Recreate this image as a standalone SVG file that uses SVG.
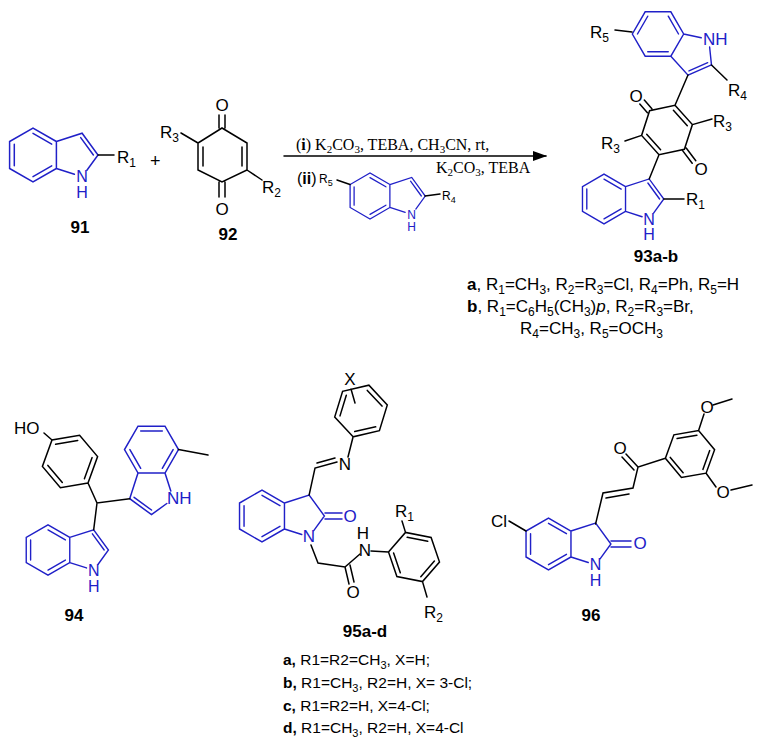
<svg xmlns="http://www.w3.org/2000/svg" xmlns:xlink="http://www.w3.org/1999/xlink" width="764" height="739" viewBox="0 0 764 739">
<style>
svg{font-size:16px}
.k{fill:none;stroke:#000;stroke-width:1.5;stroke-linecap:round}
.b{fill:none;stroke:#2020c8;stroke-width:1.5;stroke-linecap:round}
text{font-family:"Liberation Sans",Arial,sans-serif;fill:#000}
.bt{fill:#2020c8}
.lbl{font-weight:bold;font-size:17px;text-anchor:middle}
.c{text-anchor:middle}
.sm{font-size:12px}
.ser{font-family:"Liberation Serif","Times New Roman",serif;font-size:16px}
</style>
<defs>
<g id="ind">
<path d="M23.4,-13.5 L0,-27 L-23.4,-13.5 L-23.4,13.5 L0,27 L23.4,13.5 Z M23.4,-13.5 L49.1,-21.8 L65,0 L53.9,15.3 M23.4,13.5 L41.4,19.3 M-18.7,-10.8 L-18.7,10.8 M0,-21.6 L18.7,-10.8 M0,21.6 L18.7,10.8"/>
</g>
<path id="db23" d="M47.7,-17.4 L60.4,0"/>
<marker id="ah" markerWidth="14" markerHeight="10" refX="13" refY="5" orient="auto" markerUnits="userSpaceOnUse"><path d="M0,0 L14,5 L0,10 Z" fill="#000"/></marker>
</defs>

<g id="c91">
<g class="b" transform="translate(33,155)"><use xlink:href="#ind"/><use xlink:href="#db23"/></g>
<path class="k" d="M98,155 L114,155"/>
<text x="117" y="163" font-size="17">R<tspan dy="4" font-size="12">1</tspan></text>
<text class="c bt" x="82" y="182">N</text>
<text class="c bt" x="82" y="198">H</text>
<text class="lbl" x="80" y="233">91</text>
</g>

<text id="plus" x="150" y="167" font-size="18">+</text>

<g id="c92">
<path class="k" d="M222,128 L198,143 L198,170 L222,182 L247,170 L247,143 Z M203,147 L203,166 M242,147 L242,166 M219,128 L219,115 M225,128 L225,115 M219,182 L219,197 M225,182 L225,197 M198,143 L181,133 M247,170 L262,180"/>
<text class="c" x="222" y="111" font-size="17">O</text>
<text class="c" x="222" y="215" font-size="17">O</text>
<text x="160" y="138" font-size="17">R<tspan dy="4" font-size="12">3</tspan></text>
<text x="262" y="193" font-size="17">R<tspan dy="4" font-size="12">2</tspan></text>
<text class="lbl" x="228" y="240">92</text>
</g>

<g id="arrow">
<path class="k" d="M284,156 L546,156" marker-end="url(#ah)"/>
<text class="ser" x="296" y="150">(<tspan font-weight="bold">i</tspan>) K<tspan dy="3" font-size="11">2</tspan><tspan dy="-3">CO</tspan><tspan dy="3" font-size="11">3</tspan><tspan dy="-3">, TEBA, CH</tspan><tspan dy="3" font-size="11">3</tspan><tspan dy="-3">CN, rt,</tspan></text>
<text class="ser" x="436" y="173">K<tspan dy="3" font-size="11">2</tspan><tspan dy="-3">CO</tspan><tspan dy="3" font-size="11">3</tspan><tspan dy="-3">, TEBA</tspan></text>
<text x="297" y="184" font-size="16">(<tspan font-weight="bold">ii</tspan>)</text>
<text x="319" y="183" font-size="12">R<tspan dy="3" font-size="9">5</tspan></text>
<g class="b" transform="translate(370,196) scale(0.85)"><use xlink:href="#ind"/><use xlink:href="#db23"/></g>
<path class="k" d="M337,180 L350,184.5 M425,196 L440,194"/>
<text class="c bt sm" x="411.7" y="218.5">N</text>
<text class="c bt sm" x="411.7" y="231">H</text>
<text x="442" y="200" font-size="12">R<tspan dy="3" font-size="9">4</tspan></text>
</g>

<g id="c93">
<g class="b" transform="translate(658,34) rotate(30) scale(0.95,-0.95)"><use xlink:href="#ind"/><use xlink:href="#db23"/></g>
<g class="b" transform="translate(604,199) scale(0.92)"><use xlink:href="#ind"/><use xlink:href="#db23"/></g>
<path class="k" d="M675,105.3 L692.4,124.6 L684.4,149.3 L659,154.7 L641.6,135.4 L649.6,110.7 Z M673.4,110.2 L687.3,125.7 M646.7,134.3 L660.6,149.8 M647.4,112.7 L639.8,104 M651.9,108.7 L644.3,100 M682.6,150.6 L692.2,163.3 M686.2,148 L695.8,160.7 M688,75 L675,105.3 M659,154.7 L649.2,179 M692.4,124.6 L712,119 M641.6,135.4 L625,141 M632,32 L615,30 M711.5,65 L727,80 M663.8,199 L684,199"/>
<text class="c" x="636" y="102" font-size="17">O</text>
<text class="c" x="701" y="175" font-size="17">O</text>
<text x="590" y="38" font-size="17">R<tspan dy="4" font-size="12">5</tspan></text>
<text class="bt" x="703" y="45" font-size="17">NH</text>
<text x="728" y="96" font-size="17">R<tspan dy="4" font-size="12">4</tspan></text>
<text x="713" y="127" font-size="17">R<tspan dy="4" font-size="12">3</tspan></text>
<text x="601" y="149" font-size="17">R<tspan dy="4" font-size="12">3</tspan></text>
<text x="686" y="205" font-size="17">R<tspan dy="4" font-size="12">1</tspan></text>
<text class="c bt" x="649" y="224.5">N</text>
<text class="c bt" x="649" y="240">H</text>
<text class="lbl" x="656" y="262">93a-b</text>
<g font-size="17">
<text x="467" y="290"><tspan font-weight="bold">a</tspan>, R<tspan dy="4" font-size="12">1</tspan><tspan dy="-4">=CH</tspan><tspan dy="4" font-size="12">3</tspan><tspan dy="-4">, R</tspan><tspan dy="4" font-size="12">2</tspan><tspan dy="-4">=R</tspan><tspan dy="4" font-size="12">3</tspan><tspan dy="-4">=Cl,  R</tspan><tspan dy="4" font-size="12">4</tspan><tspan dy="-4">=Ph, R</tspan><tspan dy="4" font-size="12">5</tspan><tspan dy="-4">=H</tspan></text>
<text x="467" y="312"><tspan font-weight="bold">b</tspan>, R<tspan dy="4" font-size="12">1</tspan><tspan dy="-4">=C</tspan><tspan dy="4" font-size="12">6</tspan><tspan dy="-4">H</tspan><tspan dy="4" font-size="12">5</tspan><tspan dy="-4">(CH</tspan><tspan dy="4" font-size="12">3</tspan><tspan dy="-4">)</tspan><tspan font-style="italic">p</tspan>, R<tspan dy="4" font-size="12">2</tspan><tspan dy="-4">=R</tspan><tspan dy="4" font-size="12">3</tspan><tspan dy="-4">=Br,</tspan></text>
<text x="520" y="334">R<tspan dy="4" font-size="12">4</tspan><tspan dy="-4">=CH</tspan><tspan dy="4" font-size="12">3</tspan><tspan dy="-4">, R</tspan><tspan dy="4" font-size="12">5</tspan><tspan dy="-4">=OCH</tspan><tspan dy="4" font-size="12">3</tspan></text>
</g>
</g>

<g id="c94">
<g class="b" transform="translate(48,550) scale(0.93)"><use xlink:href="#ind"/><use xlink:href="#db23"/></g>
<g class="b" transform="translate(151.5,449.6) rotate(90) scale(1,-1)"><use xlink:href="#ind"/><use xlink:href="#db23"/></g>
<path class="k" d="M88,483 L60.4,487.8 L42.4,466.4 L52,440 L79.6,435.2 L97.6,456.6 Z M55.6,444.3 L77.7,440.5 M92.1,457.6 L84.4,478.7 M62.3,482.5 L47.9,465.4 M52,440 L44,433 M88,483 L97,503 L129.7,498.7 M97,503 L93.7,529.7 M178.5,449.6 L208,455"/>
<text x="14" y="434" font-size="17">HO</text>
<text class="bt" x="167" y="504" font-size="17">NH</text>
<text class="c bt" x="93.7" y="575.5">N</text>
<text class="c bt" x="93.7" y="592">H</text>
<text class="lbl" x="74" y="621">94</text>
</g>

<g id="c95">
<g class="b" transform="translate(262,516) scale(0.96)"><use xlink:href="#ind"/></g>
<path class="b" d="M325,513 L342,513 M325,519 L342,519"/>
<text class="c bt" x="350" y="522" font-size="17">O</text>
<text class="c bt" x="309" y="542" font-size="17">N</text>
<path class="k" d="M309.1,495.1 L315,468 L337,462 M317,463 L335,458 M348,457 L353.1,436.8 M353.1,436.8 L334.7,417.1 L342.6,391.3 L368.9,385.2 L387.3,404.9 L379.4,430.7 Z M340,415.9 L346.3,395.2 M367.3,390.4 L382,406.1 M375.7,426.8 L354.7,431.6 M355,403 L351,389 M311,545 L318,563 L345,567 L360,554 M345,567 L349,584 M350,565 L354,582 M371,551 L388.5,552 M388.5,552 L405.5,532.4 L431.1,537.4 L439.5,562 L422.5,581.6 L396.9,576.6 Z M407.2,537.3 L427.7,541.3 M434.4,561 L420.8,576.7 M400.3,572.7 L393.6,553 M405.5,532.4 L402,521 M422.5,581.6 L427,597"/>
<text class="c" x="350" y="385" font-size="17">X</text>
<text class="c" x="345" y="470" font-size="17">N</text>
<text class="c" x="365" y="556" font-size="17">N</text>
<text class="c" x="363" y="539" font-size="17">H</text>
<text class="c" x="353" y="598" font-size="17">O</text>
<text x="395" y="517" font-size="17">R<tspan dy="4" font-size="12">1</tspan></text>
<text x="424" y="618" font-size="17">R<tspan dy="4" font-size="12">2</tspan></text>
<text class="lbl" x="365" y="637">95a-d</text>
<g font-size="15.5">
<text x="283" y="665"><tspan font-weight="bold">a,</tspan> R1=R2=CH<tspan dy="4" font-size="11">3</tspan><tspan dy="-4">, X=H;</tspan></text>
<text x="283" y="688"><tspan font-weight="bold">b,</tspan> R1=CH<tspan dy="4" font-size="11">3</tspan><tspan dy="-4">, R2=H, X= 3-Cl;</tspan></text>
<text x="283" y="711"><tspan font-weight="bold">c,</tspan> R1=R2=H, X=4-Cl;</text>
<text x="283" y="733"><tspan font-weight="bold">d,</tspan> R1=CH<tspan dy="4" font-size="11">3</tspan><tspan dy="-4">, R2=H, X=4-Cl</tspan></text>
</g>
</g>

<g id="c96">
<g class="b" transform="translate(548.5,544) scale(0.96)"><use xlink:href="#ind"/></g>
<path class="b" d="M611,541 L631,541 M611,547 L631,547"/>
<text class="c bt" x="640" y="549" font-size="17">O</text>
<text class="c bt" x="595.6" y="570">N</text>
<text class="c bt" x="595.6" y="586">H</text>
<path class="k" d="M526,531 L509,521 M595.6,523.9 L603,493 L633,488 L638,467 L665.4,458.3 M665.4,458.3 L673.9,434.8 L698.6,430.5 L714.6,449.7 L706.1,473.2 L681.4,477.5 Z M606,498 L629,494 M638,467 L626,454 M634,470 L622,457 M677.1,438.6 L696.9,435.2 M709.7,450.6 L702.9,469.4 M683.1,472.8 L670.3,457.4 M698.6,430.5 L704,414 M713,405 L732,399 M706.1,473.2 L716,487 M731,490 L752,485"/>
<text x="507" y="527" text-anchor="end" font-size="17">Cl</text>
<text class="c" x="620" y="454" font-size="17">O</text>
<text class="c" x="707" y="413" font-size="17">O</text>
<text class="c" x="723" y="498" font-size="17">O</text>
<text class="lbl" x="591" y="621">96</text>
</g>
</svg>
